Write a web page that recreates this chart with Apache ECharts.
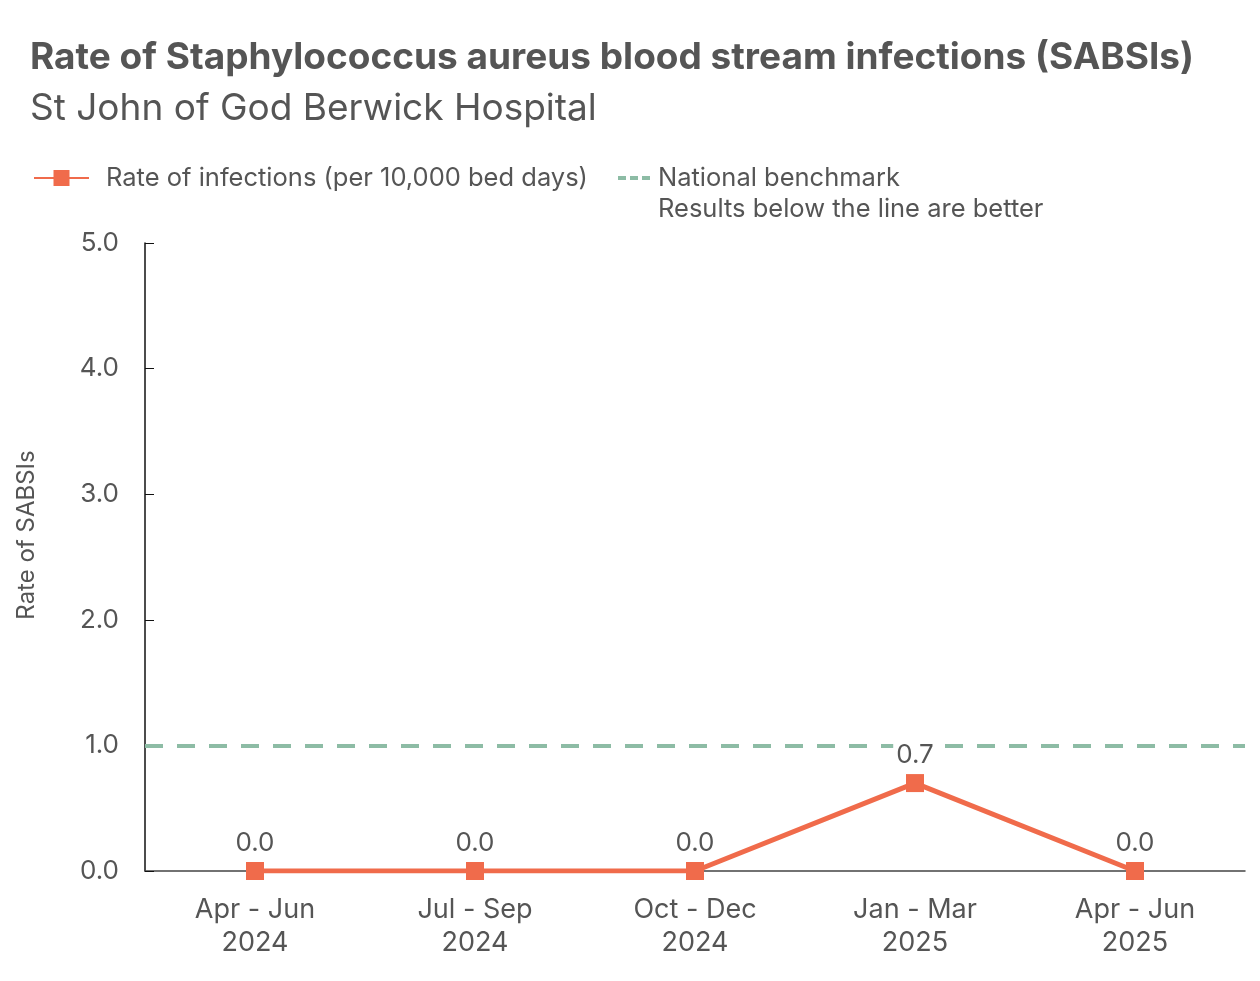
<!DOCTYPE html>
<html>
<head>
<meta charset="utf-8">
<script src="https://cdn.jsdelivr.net/npm/echarts@6/dist/echarts.min.js"></script>
<style>
  html, body { margin: 0; padding: 0; background: #fff; }
  #chart { width: 1260px; height: 981px; }
</style>
</head>
<body>
<div id="chart"></div>
<script>
var periods = ['Apr - Jun\n2024', 'Jul - Sep\n2024', 'Oct - Dec\n2024', 'Jan - Mar\n2025', 'Apr - Jun\n2025'];
var rates = [0.0, 0.0, 0.0, 0.7, 0.0];
var benchmark = 1.0;
var yTicks = [0, 1, 2, 3, 4, 5];

var textColor = '#555555';
var lineColor = '#f06b4b';
var benchColor = '#8dbca5';
var font = 'Inter';

var rateName = 'Rate of infections (per 10,000 bed days)';
var benchName = 'National benchmark';

var option = {
    textStyle: { fontFamily: font },
    title: {
        text: 'Rate of Staphylococcus aureus blood stream infections (SABSIs)',
        subtext: 'St John of God Berwick Hospital',
        left: 25,
        top: 34,
        itemGap: 14,
        textStyle: { fontFamily: font, fontSize: 37, fontWeight: 'bold', color: textColor },
        subtextStyle: { fontFamily: font, fontSize: 37, color: textColor }
    },
    legend: [
        {
            data: [rateName],
            left: 28,
            top: 160,
            itemWidth: 55,
            itemHeight: 20,
            textStyle: { fontSize: 25.5, color: textColor, padding: [0, 0, 0, 12] }
        },
        {
            data: [{
                name: benchName,
                icon: 'path://M0,0h8v4h-8z M12,0h8v4h-8z M24,0h8v4h-8z'
            }],
            left: 613,
            top: 160,
            itemWidth: 32,
            itemHeight: 4,
            textStyle: { fontSize: 25.5, color: textColor, padding: [0, 0, 0, 3] }
        }
    ],
    graphic: [
        {
            type: 'text',
            left: 658,
            top: 196,
            style: { text: 'Results below the line are better', fontFamily: font, fontSize: 25.5, fill: textColor }
        }
    ],
    grid: { left: 145, right: 15, top: 243, bottom: 110 },
    xAxis: {
        type: 'category',
        data: periods,
        axisLine: { lineStyle: { color: '#444', width: 1.5 } },
        axisTick: { show: false },
        axisLabel: { fontSize: 27, color: textColor, lineHeight: 33, margin: 22 }
    },
    yAxis: {
        type: 'value',
        min: yTicks[0],
        max: yTicks[yTicks.length - 1],
        interval: 1,
        name: 'Rate of SABSIs',
        nameLocation: 'middle',
        nameGap: 106,
        nameTextStyle: { fontSize: 24, color: textColor, padding: [0, 0, 0, 44] },
        axisLine: { show: true, lineStyle: { color: '#111', width: 1.5 } },
        axisTick: { show: true, inside: true, length: 9, lineStyle: { color: '#111' } },
        splitLine: { show: false },
        axisLabel: {
            fontSize: 26, color: textColor, margin: 26,
            formatter: function (v) { return v.toFixed(1); }
        }
    },
    series: [
        {
            name: rateName,
            type: 'line',
            data: rates,
            symbol: 'rect',
            symbolSize: 18,
            itemStyle: { color: lineColor },
            lineStyle: { color: lineColor, width: 5 },
            label: {
                show: true,
                position: 'top',
                distance: 6,
                fontSize: 26,
                color: textColor,
                backgroundColor: '#fff',
                padding: [0, 3],
                formatter: function (p) { return p.value.toFixed(1); }
            },
            z: 5
        },
        {
            name: benchName,
            type: 'line',
            data: [],
            symbol: 'none',
            itemStyle: { color: benchColor },
            lineStyle: { color: benchColor, width: 4, type: [14, 12] },
            markLine: {
                silent: true,
                symbol: 'none',
                label: { show: false },
                lineStyle: { color: benchColor, width: 4, type: [18, 14] },
                data: [{ yAxis: benchmark }]
            },
            z: 2
        }
    ]
};

var chart = echarts.init(document.getElementById('chart'));
chart.setOption(option);
</script>
</body>
</html>
